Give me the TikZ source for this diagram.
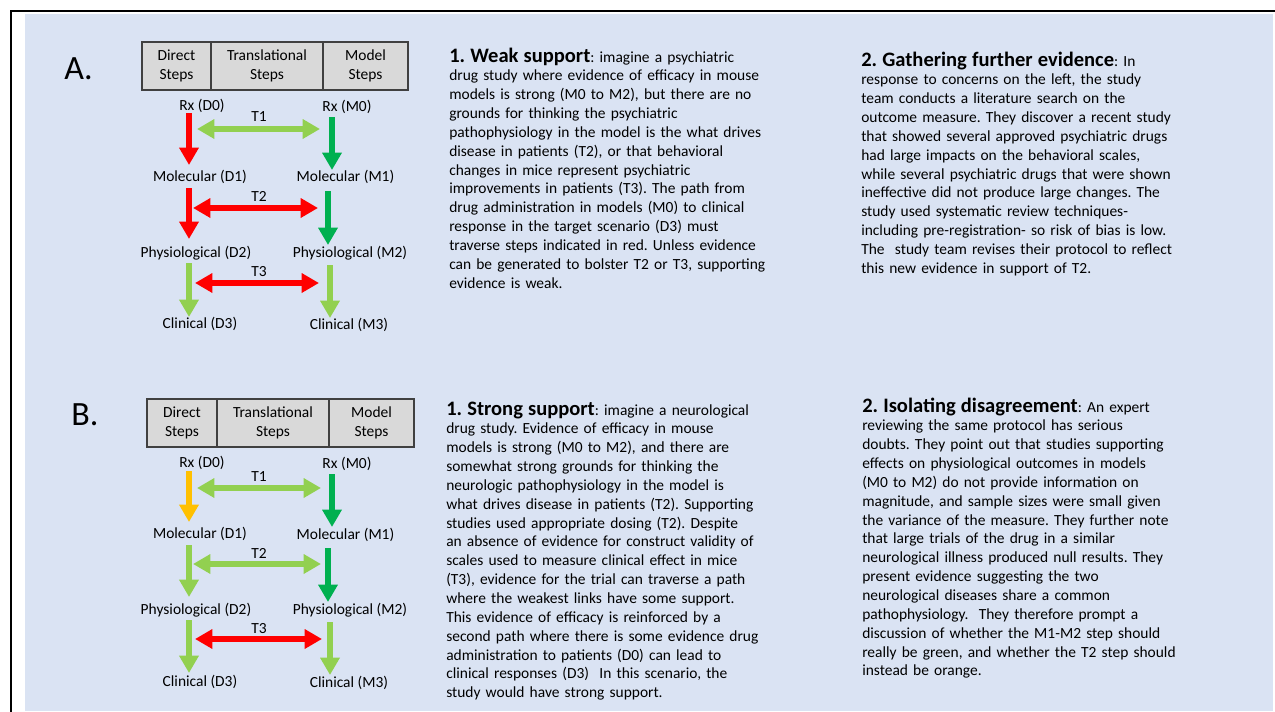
\documentclass[tikz,border=0pt]{standalone}
\usepackage{fontspec}
\setmainfont{Carlito}
\usetikzlibrary{arrows.meta}
\definecolor{bg}{HTML}{DAE3F3}
\definecolor{myred}{HTML}{FF0000}
\definecolor{dgreen}{HTML}{00B050}
\definecolor{lgreen}{HTML}{92D050}
\definecolor{orng}{HTML}{FFC000}
\definecolor{boxgray}{HTML}{D9D9D9}
\definecolor{boxline}{HTML}{404040}
\newcommand{\hd}[1]{{\fontsize{15.4}{14.14}\selectfont\bfseries #1}}
\tikzset{
  body/.style={font=\fontsize{11.6}{14.14}\selectfont\frenchspacing, text=black},
  lbl/.style={body, inner sep=0pt, anchor=base},
  hbox/.style={draw=boxline, line width=0.9pt, fill=boxgray, minimum height=36pt, inner sep=0pt, align=center, body},
  para/.style={body, inner sep=0pt, anchor=base west, align=left, text width=300pt},
  varrow/.style={line width=5.2pt, -{Triangle[length=13pt,width=14pt]}},
  harrow/.style={line width=4.6pt, {Triangle[length=13pt,width=14pt]}-{Triangle[length=13pt,width=14pt]}},
  panel/.style={font=\fontsize{25.5}{30}\selectfont, inner sep=0pt, anchor=base west}
}
\begin{document}
\frenchspacing
\begin{tikzpicture}[x=0.75pt,y=-0.75pt]
\useasboundingbox (0,0) rectangle (1275,711);
\fill[bg] (25,14) rectangle (1273,711);
\draw[line width=1.5pt] (10.5,720) -- (10.5,10.5) -- (1285,10.5);

% ---------------- Panel A ----------------
\node[panel] (pA) at (64,79) {A.};
\node[hbox, minimum width=51.75pt] (hAd) at (176.5,66) {Direct\\Steps};
\node[hbox, minimum width=84pt] (hAt) at (267,66) {Translational\\Steps};
\node[hbox, minimum width=63.75pt] (hAm) at (365.5,66) {Model\\Steps};

\node[lbl] (Ad0) at (202,110.5) {Rx (D0)};
\node[lbl] (Am0) at (347,111.5) {Rx (M0)};
\node[lbl] (At1) at (259,121.5) {T1};
\node[lbl] (Ad1) at (200,181.5) {Molecular (D1)};
\node[lbl] (Am1) at (345.5,181.5) {Molecular (M1)};
\node[lbl] (At2) at (259,201.5) {T2};
\node[lbl] (Ad2) at (196,257.5) {Physiological (D2)};
\node[lbl] (Am2) at (350,257.5) {Physiological (M2)};
\node[lbl] (At3) at (259,276.5) {T3};
\node[lbl] (Ad3) at (200,328.5) {Clinical (D3)};
\node[lbl] (Am3) at (349,329.5) {Clinical (M3)};

\coordinate (Ad0s) at (189,113); \coordinate (Ad1n) at (189,165);
\coordinate (Am0s) at (332,117); \coordinate (Am1n) at (332,170);
\coordinate (Ad1s) at (189,188); \coordinate (Ad2n) at (189,239);
\coordinate (Am1s) at (328,191); \coordinate (Am2n) at (328,245);
\coordinate (Ad2s) at (189,263); \coordinate (Ad3n) at (189,317);
\coordinate (Am2s) at (330,265); \coordinate (Am3n) at (330,318);
\coordinate (At1l) at (197,129); \coordinate (At1r) at (320,129);
\coordinate (At2l) at (193,208); \coordinate (At2r) at (318,208);
\coordinate (At3l) at (195,283); \coordinate (At3r) at (319,283);

\draw[varrow, myred] (Ad0s) -- (Ad1n);
\draw[varrow, dgreen] (Am0s) -- (Am1n);
\draw[varrow, myred] (Ad1s) -- (Ad2n);
\draw[varrow, dgreen] (Am1s) -- (Am2n);
\draw[varrow, lgreen] (Ad2s) -- (Ad3n);
\draw[varrow, lgreen] (Am2s) -- (Am3n);
\draw[harrow, lgreen] (At1l) -- (At1r);
\draw[harrow, myred] (At2l) -- (At2r);
\draw[harrow, myred] (At3l) -- (At3r);

\node[para] (tA1) at (449,62) {\hd{1. Weak support}: imagine a psychiatric\\
drug study where evidence of efficacy in mouse\\
models is strong (M0 to M2), but there are no\\
grounds for thinking the psychiatric\\
pathophysiology in the model is the what drives\\
disease in patients (T2), or that behavioral\\
changes in mice represent psychiatric\\
improvements in patients (T3). The path from\\
drug administration in models (M0) to clinical\\
response in the target scenario (D3) must\\
traverse steps indicated in red. Unless evidence\\
can be generated to bolster T2 or T3, supporting\\
evidence is weak.};

\node[para] (tA2) at (861,66) {\hd{2. Gathering further evidence}: In\\
response to concerns on the left, the study\\
team conducts a literature search on the\\
outcome measure. They discover a recent study\\
that showed several approved psychiatric drugs\\
had large impacts on the behavioral scales,\\
while several psychiatric drugs that were shown\\
ineffective did not produce large changes. The\\
study used systematic review techniques-\\
including pre-registration- so risk of bias is low.\\
The~ study team revises their protocol to reflect\\
this new evidence in support of T2.};

% ---------------- Panel B ----------------
\node[panel] (pB) at (71,425) {B.};
\node[hbox, minimum width=52.5pt] (hBd) at (182,423) {Direct\\Steps};
\node[hbox, minimum width=84pt] (hBt) at (273,423) {Translational\\Steps};
\node[hbox, minimum width=63.75pt] (hBm) at (371.5,423) {Model\\Steps};

\node[lbl] (Bd0) at (202,467.5) {Rx (D0)};
\node[lbl] (Bm0) at (347,468.5) {Rx (M0)};
\node[lbl] (Bt1) at (259,481.5) {T1};
\node[lbl] (Bd1) at (200,538.5) {Molecular (D1)};
\node[lbl] (Bm1) at (345.5,539.5) {Molecular (M1)};
\node[lbl] (Bt2) at (259,558.5) {T2};
\node[lbl] (Bd2) at (196,614.5) {Physiological (D2)};
\node[lbl] (Bm2) at (350,614.5) {Physiological (M2)};
\node[lbl] (Bt3) at (259,633.5) {T3};
\node[lbl] (Bd3) at (200,686.5) {Clinical (D3)};
\node[lbl] (Bm3) at (349,687.5) {Clinical (M3)};

\coordinate (Bd0s) at (189,471); \coordinate (Bd1n) at (189,522);
\coordinate (Bm0s) at (332,474); \coordinate (Bm1n) at (332,527);
\coordinate (Bd1s) at (189,545); \coordinate (Bd2n) at (189,597);
\coordinate (Bm1s) at (328,548); \coordinate (Bm2n) at (328,602);
\coordinate (Bd2s) at (189,620); \coordinate (Bd3n) at (189,673);
\coordinate (Bm2s) at (330,622); \coordinate (Bm3n) at (330,675);
\coordinate (Bt1l) at (197,488); \coordinate (Bt1r) at (321,488);
\coordinate (Bt2l) at (193,564); \coordinate (Bt2r) at (321,564);
\coordinate (Bt3l) at (195,639); \coordinate (Bt3r) at (322,639);

\draw[varrow, orng] (Bd0s) -- (Bd1n);
\draw[varrow, dgreen] (Bm0s) -- (Bm1n);
\draw[varrow, lgreen] (Bd1s) -- (Bd2n);
\draw[varrow, dgreen] (Bm1s) -- (Bm2n);
\draw[varrow, lgreen] (Bd2s) -- (Bd3n);
\draw[varrow, lgreen] (Bm2s) -- (Bm3n);
\draw[harrow, lgreen] (Bt1l) -- (Bt1r);
\draw[harrow, lgreen] (Bt2l) -- (Bt2r);
\draw[harrow, myred] (Bt3l) -- (Bt3r);

\node[para] (tB1) at (446,415) {\hd{1. Strong support}: imagine a neurological\\
drug study. Evidence of efficacy in mouse\\
models is strong (M0 to M2), and there are\\
somewhat strong grounds for thinking the\\
neurologic pathophysiology in the model is\\
what drives disease in patients (T2). Supporting\\
studies used appropriate dosing (T2). Despite\\
an absence of evidence for construct validity of\\
scales used to measure clinical effect in mice\\
(T3), evidence for the trial can traverse a path\\
where the weakest links have some support.\\
This evidence of efficacy is reinforced by a\\
second path where there is some evidence drug\\
administration to patients (D0) can lead to\\
clinical responses (D3)~ In this scenario, the\\
study would have strong support.};

\node[para] (tB2) at (862,412) {\hd{2. Isolating disagreement}: An expert\\
reviewing the same protocol has serious\\
doubts. They point out that studies supporting\\
effects on physiological outcomes in models\\
(M0 to M2) do not provide information on\\
magnitude, and sample sizes were small given\\
the variance of the measure. They further note\\
that large trials of the drug in a similar\\
neurological illness produced null results. They\\
present evidence suggesting the two\\
neurological diseases share a common\\
pathophysiology.~ They therefore prompt a\\
discussion of whether the M1-M2 step should\\
really be green, and whether the T2 step should\\
instead be orange.};
\end{tikzpicture}
\end{document}
